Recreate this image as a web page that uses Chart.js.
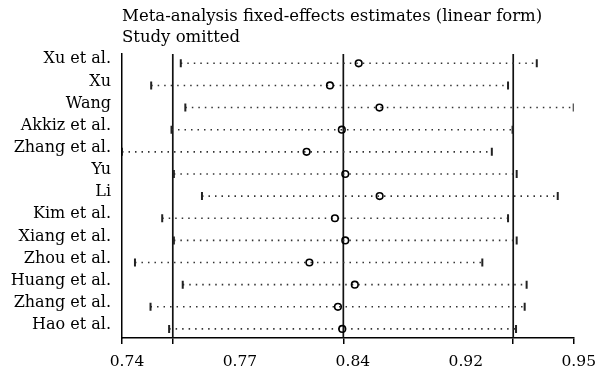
<!DOCTYPE html>
<html>
<head>
<meta charset="utf-8">
<script src="https://cdn.jsdelivr.net/npm/chart.js@4/dist/chart.umd.min.js"></script>
<style>
  html, body { margin: 0; padding: 0; background: #ffffff; }
  #wrap { width: 598px; height: 376px; }
</style>
</head>
<body>
<div id="wrap"><canvas id="c" width="598" height="376"></canvas></div>
<script>
// ---- data ----
const titleLines = ['Meta-analysis fixed-effects estimates (linear form)', 'Study omitted'];
const studies = ['Xu et al.', 'Xu', 'Wang', 'Akkiz et al.', 'Zhang et al.', 'Yu', 'Li',
                 'Kim et al.', 'Xiang et al.', 'Zhou et al.', 'Huang et al.', 'Zhang et al.', 'Hao et al.'];
const lower    = [0.7692, 0.7555, 0.7713, 0.7649, 0.7420, 0.7660, 0.7790, 0.7606, 0.7660, 0.7480, 0.7701, 0.7552, 0.7638];
const estimate = [0.8515, 0.8382, 0.8611, 0.8437, 0.8274, 0.8453, 0.8612, 0.8405, 0.8453, 0.8287, 0.8497, 0.8419, 0.8439];
const upper    = [0.9339, 0.9206, 0.9510, 0.9227, 0.9131, 0.9246, 0.9436, 0.9206, 0.9246, 0.9087, 0.9292, 0.9283, 0.9243];
const combined = [0.7655, 0.8444, 0.9230];           // pooled lower CI, estimate, upper CI
const tickValues = [0.7420, 0.7655, 0.8444, 0.9230, 0.9510];
const tickLabels = ['0.74', '0.77', '0.84', '0.92', '0.95'];

const FAMILY = "'DejaVu Serif', serif";

const datasets = [];
studies.forEach((s, i) => {
  datasets.push({
    type: 'scatter',
    label: s,
    data: [{ x: lower[i], y: i + 1 }, { x: upper[i], y: i + 1 }],
    showLine: true,
    borderColor: '#333',
    borderWidth: 1.6,
    borderDash: [1.5, 5],
    pointStyle: 'line',
    rotation: 90,
    pointRadius: 4,
    pointBorderWidth: 2,
    pointBorderColor: '#222',
    pointBackgroundColor: '#222',
    order: 2
  });
});
datasets.push({
  type: 'scatter',
  label: 'estimate',
  data: estimate.map((v, i) => ({ x: v, y: i + 1 })),
  pointStyle: 'circle',
  pointRadius: 3.3,
  borderWidth: 1.6,
  borderColor: '#000',
  backgroundColor: 'rgba(0,0,0,0)',
  order: 1
});

const refLines = {
  id: 'refLines',
  beforeDatasetsDraw(chart) {
    const { ctx, chartArea, scales } = chart;
    ctx.save();
    ctx.strokeStyle = '#111';
    ctx.lineWidth = 1.7;
    combined.forEach(v => {
      const px = scales.x.getPixelForValue(v);
      ctx.beginPath();
      ctx.moveTo(px, chartArea.top);
      ctx.lineTo(px, chartArea.bottom);
      ctx.stroke();
    });
    ctx.restore();
  }
};

new Chart(document.getElementById('c'), {
  type: 'scatter',
  data: { datasets },
  plugins: [refLines],
  options: {
    responsive: false,
    animation: false,
    devicePixelRatio: 1,
    layout: { padding: { left: 0, right: 23, top: 0, bottom: 0 } },
    plugins: {
      legend: { display: false },
      tooltip: { enabled: false },
      title: {
        display: true,
        text: titleLines,
        align: 'start',
        fullSize: false,
        color: '#000',
        font: { family: FAMILY, size: 16.5, weight: 'normal', lineHeight: 1.3 },
        padding: { top: 5.5, bottom: 5.6 }
      }
    },
    scales: {
      x: {
        type: 'linear',
        position: 'bottom',
        weight: 0,
        min: tickValues[0],
        max: tickValues[tickValues.length - 1],
        afterBuildTicks: s => { s.ticks = tickValues.map(v => ({ value: v })); },
        ticks: { display: false },
        grid: { drawOnChartArea: false, drawTicks: true, tickLength: 6, color: '#000', lineWidth: 1.5 },
        border: { display: true, color: '#000', width: 1.5 },
        afterFit: s => { s.height = 8; }
      },
      x2: {
        type: 'linear',
        position: 'bottom',
        weight: 1,
        min: 0,
        max: tickLabels.length - 1,
        afterBuildTicks: s => { s.ticks = tickLabels.map((_, i) => ({ value: i })); },
        ticks: {
          callback: v => tickLabels[v],
          color: '#000',
          font: { family: FAMILY, size: 15.5 },
          padding: 7,
          labelOffset: 5,
          maxRotation: 0,
          autoSkip: false
        },
        grid: { display: false, drawTicks: false },
        border: { display: false },
        afterFit: s => { s.height = 30; }
      },
      y: {
        type: 'linear',
        reverse: true,
        min: 0.58,
        max: 13.41,
        afterBuildTicks: s => { s.ticks = studies.map((_, i) => ({ value: i + 1 })); },
        ticks: {
          callback: v => studies[v - 1],
          color: '#000',
          font: { family: FAMILY, size: 16 },
          padding: 11,
          labelOffset: -4,
          autoSkip: false
        },
        grid: { display: false, drawTicks: false },
        border: { display: true, color: '#000', width: 1.5 },
        afterFit: s => { s.width = 122; }
      }
    }
  }
});
</script>
</body>
</html>
